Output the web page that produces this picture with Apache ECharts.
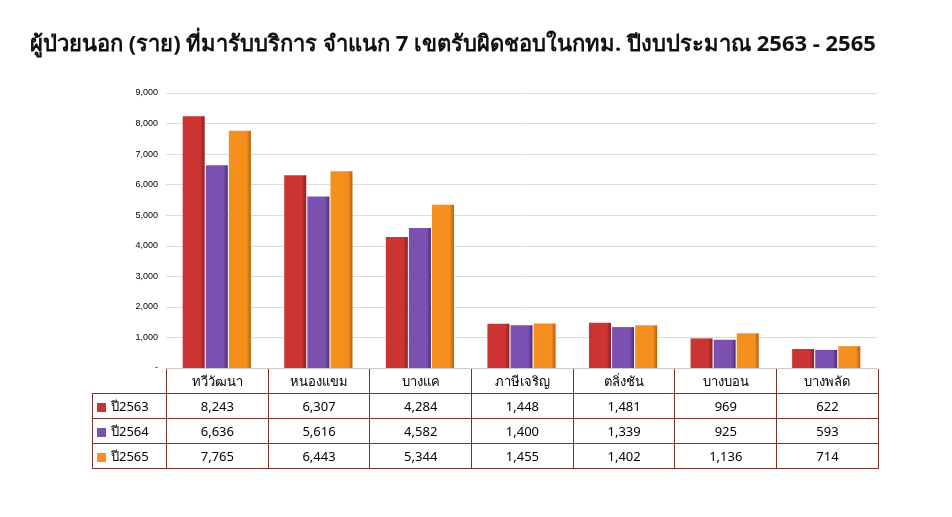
<!DOCTYPE html>
<html><head><meta charset="utf-8">
<script src="https://cdn.jsdelivr.net/npm/echarts@6/dist/echarts.min.js"></script>
<style>
body{margin:0;background:#fff;font-family:"Noto Sans","DejaVu Sans",sans-serif;}
#c{position:absolute;left:0;top:0;width:952px;height:517px;}
#title{position:absolute;left:30px;top:26px;font-size:22px;font-weight:bold;color:#111;white-space:nowrap;}
table{position:absolute;left:92px;top:369px;width:786px;table-layout:fixed;border-collapse:collapse;font-size:13px;color:#000;}
td{border:1px solid #7a3030;height:24px;padding:0;text-align:center;overflow:hidden;white-space:nowrap;}
td.h{text-align:left;padding-left:4px;}
tr.hd td{border-top:none;}
tr.hd td.e{border:none;border-right:1px solid #7a3030;}
.sw{display:inline-block;width:9px;height:9px;margin-right:5px;vertical-align:middle;}
</style></head><body>
<div id="c"></div>
<div id="title">ผู้ป่วยนอก (ราย) ที่มารับบริการ จำแนก 7 เขตรับผิดชอบในกทม. ปีงบประมาณ 2563 - 2565</div>
<table id="t"></table>
<script>
const categories=["ทวีวัฒนา","หนองแขม","บางแค","ภาษีเจริญ","ตลิ่งชัน","บางบอน","บางพลัด"];
const seriesNames=["ปี2563","ปี2564","ปี2565"];
const v2563=[8243,6307,4284,1448,1481,969,622];
const v2564=[6636,5616,4582,1400,1339,925,593];
const v2565=[7765,6443,5344,1455,1402,1136,714];
const colors=["#cc3333","#7b50b0","#f5901e"];
const dark=["#8e1f1f","#4e2c7a","#b8600c"];
const vals=[v2563,v2564,v2565];
const c=echarts.init(document.getElementById('c'));
c.setOption({
 animation:false,
 grid:{left:166,right:75,top:93,bottom:149},
 xAxis:{type:'category',data:categories,axisLabel:{show:false},axisTick:{show:false},axisLine:{lineStyle:{color:'#ccc'}}},
 yAxis:{type:'value',min:0,max:9000,interval:1000,axisLabel:{fontSize:9,color:'#000',formatter:v=>v===0?'-':v.toLocaleString('en-US')},splitLine:{lineStyle:{color:'#ddd'}}},
 series:vals.map((d,i)=>({name:seriesNames[i],type:'bar',data:d,barWidth:22,barGap:'5%',
   itemStyle:{color:new echarts.graphic.LinearGradient(0,0,1,0,[{offset:0,color:colors[i]},{offset:0.8,color:colors[i]},{offset:1,color:dark[i]}])}}))
});
let h='<colgroup><col style="width:74px">'+categories.map(()=>'<col style="width:101.7px">').join('')+'</colgroup>';
h+='<tr class="hd"><td class="e"></td>'+categories.map(x=>'<td>'+x+'</td>').join('')+'</tr>';
vals.forEach((d,i)=>{h+='<tr><td class="h"><span class="sw" style="background:'+colors[i]+'"></span>'+seriesNames[i]+'</td>'+d.map(x=>'<td>'+x.toLocaleString('en-US')+'</td>').join('')+'</tr>';});
document.getElementById('t').innerHTML=h;
</script></body></html>
